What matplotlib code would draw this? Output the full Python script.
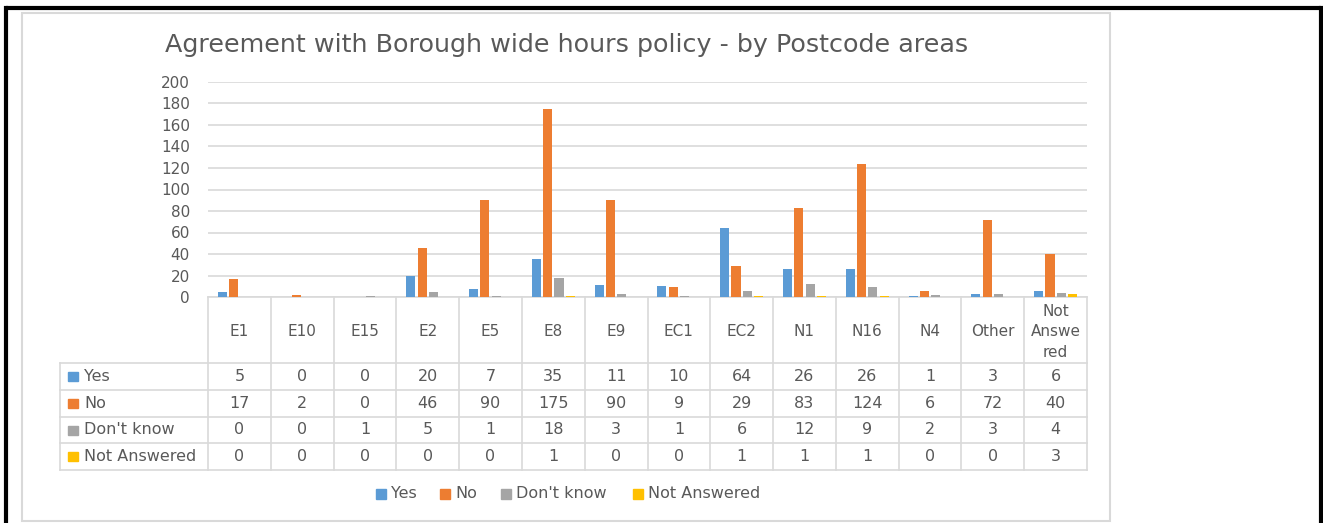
import matplotlib
matplotlib.use("Agg")
import matplotlib.pyplot as plt
from matplotlib.patches import Rectangle

plt.rcParams["font.family"] = ["DejaVu Sans"]

# data
categories = ["E1", "E10", "E15", "E2", "E5", "E8", "E9", "EC1", "EC2", "N1", "N16", "N4", "Other", "Not\nAnswe\nred"]
series_names = ["Yes", "No", "Don't know", "Not Answered"]
yes = [5, 0, 0, 20, 7, 35, 11, 10, 64, 26, 26, 1, 3, 6]
no = [17, 2, 0, 46, 90, 175, 90, 9, 29, 83, 124, 6, 72, 40]
dont_know = [0, 0, 1, 5, 1, 18, 3, 1, 6, 12, 9, 2, 3, 4]
not_answered = [0, 0, 0, 0, 0, 1, 0, 0, 1, 1, 1, 0, 0, 3]
colors = ["#5B9BD5", "#ED7D31", "#A5A5A5", "#FFC000"]
title = "Agreement with Borough wide hours policy - by Postcode areas"

W, H = 1323, 523
TXT = "#595959"
GRID = "#D9D9D9"

fig = plt.figure(figsize=(W / 100, H / 100), dpi=100)

# overlay in pixel coordinates for frame, table and legend
over = fig.add_axes([0, 0, 1, 1])
over.set_xlim(0, W)
over.set_ylim(H, 0)
over.axis("off")

# outer black frame and grey chart box
over.plot([6, 1321], [8, 8], color="black", lw=3, solid_capstyle="butt")
over.plot([6, 6], [8, H], color="black", lw=3)
over.plot([1321, 1321], [8, H], color="black", lw=3)
over.add_patch(Rectangle((22, 13), 1088, 508, fill=False, ec=GRID, lw=1.5))

over.text(567, 45, title, ha="center", va="center", fontsize=18.3, color=TXT)

# plot area
px_l, px_r, px_t, px_b = 208, 1087, 82, 297
ax = fig.add_axes([px_l / W, 1 - px_b / H, (px_r - px_l) / W, (px_b - px_t) / H])
ax.patch.set_alpha(0)
n = len(categories)
data = [yes, no, dont_know, not_answered]
pitch, bw = 0.18, 0.145
for i, (vals, c) in enumerate(zip(data, colors)):
    xs = [k + 0.5 + (i - 1.5) * pitch for k in range(n)]
    ax.bar(xs, vals, width=bw, color=c, zorder=3)
ax.set_xlim(0, n)
ax.set_ylim(0, 200)
ax.set_yticks(range(0, 201, 20))
ax.set_xticks([])
ax.grid(axis="y", color=GRID, lw=1.2, zorder=0)
for s in ["top", "right", "left"]:
    ax.spines[s].set_visible(False)
ax.spines["bottom"].set_color(GRID)
ax.spines["bottom"].set_linewidth(1.2)
ax.tick_params(axis="y", length=0, pad=13, labelsize=11, labelcolor=TXT)

# data table under the plot
col_w = (px_r - px_l) / n
row_edges = [297, 363, 390, 417, 443, 470]
lab_l = 60
for k in range(n + 1):
    x = px_l + k * col_w
    over.plot([x, x], [row_edges[0], row_edges[-1]], color=GRID, lw=1.2)
over.plot([lab_l, lab_l], [row_edges[1], row_edges[-1]], color=GRID, lw=1.2)
for y in row_edges[1:]:
    over.plot([lab_l, px_r], [y, y], color=GRID, lw=1.2)
for k, cat in enumerate(categories):
    cx = px_l + (k + 0.5) * col_w
    over.text(cx, (row_edges[0] + row_edges[1]) / 2 + 2, cat, ha="center", va="center",
              fontsize=11, color=TXT, linespacing=1.45)
for r, (name, vals, c) in enumerate(zip(series_names, data, colors)):
    cy = (row_edges[r + 1] + row_edges[r + 2]) / 2
    over.add_patch(Rectangle((68, cy - 4.5), 10, 9, color=c))
    over.text(84, cy, name, ha="left", va="center", fontsize=11.5, color=TXT)
    for k, v in enumerate(vals):
        cx = px_l + (k + 0.5) * col_w
        over.text(cx, cy, str(v), ha="center", va="center", fontsize=11.5, color=TXT)

# legend along the bottom
leg_x = [376, 440, 501, 633]
for x, name, c in zip(leg_x, series_names, colors):
    over.add_patch(Rectangle((x, 489), 10, 10, color=c))
    over.text(x + 15, 494, name, ha="left", va="center", fontsize=11.5, color=TXT)

fig.savefig("out.png", dpi=100)
